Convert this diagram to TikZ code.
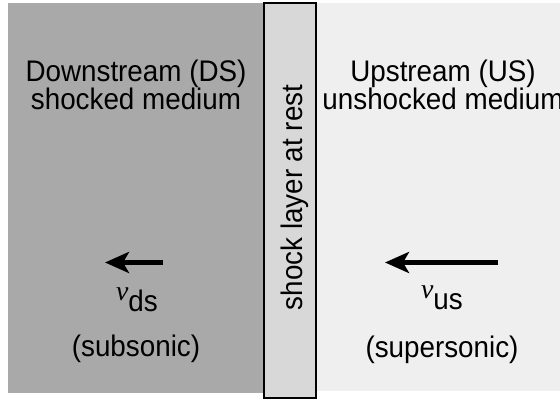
\documentclass[tikz,border=0pt]{standalone}
\usepackage{fontspec}
\usepackage{graphicx}
\setmainfont{Liberation Sans}
\newfontfamily\vfont{Liberation Serif}
\usetikzlibrary{arrows.meta}
\definecolor{dsgray}{HTML}{A9A9A9}
\definecolor{shockgray}{HTML}{D8D8D8}
\definecolor{usgray}{HTML}{EFEFEF}
\newcommand\tallt[1]{\scalebox{1}[1.07]{#1}}
\begin{document}
\begin{tikzpicture}[x=1pt,y=-1pt,
  lbl/.style={inner sep=0pt,anchor=base,font=\fontsize{27.8}{26}\selectfont},
  flow/.style={line width=4.5pt,-{Stealth[length=24pt,width=21pt,inset=6pt]}}]
\useasboundingbox (0,0) rectangle (560,401);
\fill[white] (0,0) rectangle (560,401);
\fill[dsgray] (8,3) rectangle (263,393);
\fill[usgray] (317,3) rectangle (560,391);
\draw[line width=2.8pt,fill=shockgray] (264,3) rectangle (316,398);
\node[lbl] (dsa) at (136,82) {\tallt{Downstream (DS)}};
\node[lbl] (dsb) at (136,110) {\tallt{shocked medium}};
\node[lbl] (usa) at (443,82) {\tallt{Upstream (US)}};
\node[lbl] (usb) at (443,110) {\tallt{unshocked medium}};
\node[lbl,rotate=90] (shock) at (302,197.5) {\tallt{shock layer at rest}};
\coordinate (dstail) at (163,262.5);
\coordinate (dstip) at (105,262.5);
\coordinate (ustail) at (498,262.5);
\coordinate (ustip) at (385,262.5);
\draw[flow] (dstail) -- (dstip);
\draw[flow] (ustail) -- (ustip);
\node[lbl] (vds) at (137,311) {\raisebox{11pt}{\vfont\itshape v}\tallt{ds}};
\node[lbl] (vus) at (442,309) {\raisebox{11pt}{\vfont\itshape v}\tallt{us}};
\node[lbl] (sub) at (136,356) {\tallt{(subsonic)}};
\node[lbl] (sup) at (442,357) {\tallt{(supersonic)}};
\end{tikzpicture}
\end{document}
